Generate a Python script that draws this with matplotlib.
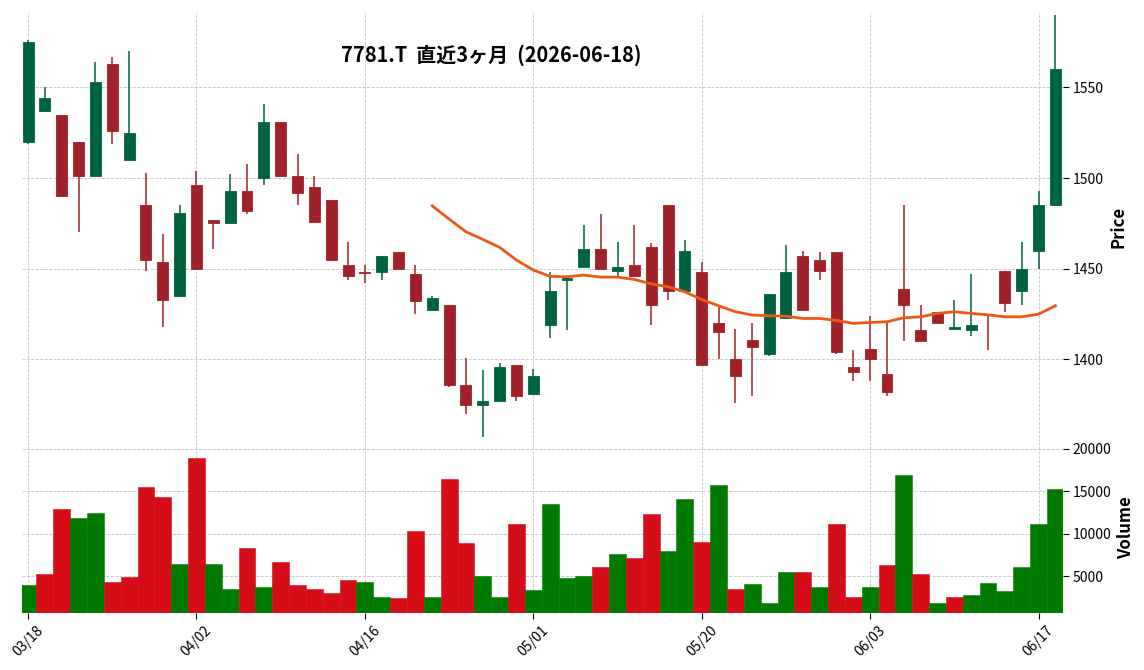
import numpy as np
import matplotlib
matplotlib.use("Agg")
import matplotlib.pyplot as plt
from matplotlib.ticker import MultipleLocator

plt.rcParams['font.family'] = ['Noto Sans CJK JP', 'DejaVu Sans']

# daily OHLCV, 2026-03-18 .. 2026-06-18 (62 sessions)
opens  = [1520, 1537, 1535, 1520, 1501, 1563, 1510, 1485, 1454, 1435,
          1496, 1477, 1475, 1493, 1500, 1531, 1501, 1495, 1488, 1452,
          1448, 1448, 1459, 1447, 1427, 1430, 1386, 1375, 1377, 1397,
          1381, 1419, 1444, 1451, 1461, 1449, 1452, 1462, 1485, 1438,
          1448, 1420, 1400, 1411, 1403, 1423, 1457, 1455, 1459, 1396,
          1406, 1392, 1439, 1416, 1426, 1417, 1416, 1425, 1449, 1438,
          1460, 1485]
highs  = [1576, 1550, 1535, 1520, 1564, 1567, 1570, 1503, 1469, 1485,
          1504, 1477, 1502, 1508, 1541, 1531, 1513, 1501, 1488, 1465,
          1452, 1457, 1459, 1452, 1435, 1430, 1401, 1394, 1398, 1397,
          1395, 1448, 1445, 1474, 1480, 1465, 1474, 1464, 1485, 1466,
          1454, 1429, 1417, 1420, 1436, 1463, 1460, 1459, 1459, 1405,
          1424, 1420, 1485, 1430, 1426, 1433, 1447, 1425, 1449, 1465,
          1493, 1590]
lows   = [1519, 1537, 1490, 1470, 1501, 1519, 1510, 1449, 1418, 1435,
          1450, 1461, 1475, 1480, 1496, 1501, 1485, 1476, 1455, 1444,
          1442, 1444, 1450, 1425, 1427, 1385, 1370, 1357, 1377, 1377,
          1381, 1412, 1416, 1451, 1450, 1446, 1446, 1419, 1433, 1438,
          1397, 1400, 1376, 1380, 1402, 1423, 1427, 1444, 1403, 1388,
          1388, 1380, 1410, 1410, 1420, 1417, 1413, 1405, 1426, 1430,
          1450, 1485]
closes = [1575, 1544, 1490, 1501, 1553, 1526, 1525, 1455, 1433, 1481,
          1450, 1475, 1493, 1482, 1531, 1501, 1492, 1476, 1455, 1446,
          1447.5, 1457, 1450, 1432, 1434, 1386, 1375, 1377, 1396, 1380,
          1391, 1438, 1445, 1461, 1450, 1451, 1446, 1430, 1438, 1460,
          1397, 1415, 1391, 1407, 1436, 1448, 1427, 1449, 1404, 1393,
          1400, 1382, 1430, 1410, 1420, 1418, 1419, 1424.5, 1431, 1450,
          1485, 1560]
volumes = [4000, 5300, 12900, 11900, 12400, 4300, 4900, 15500, 14300, 6400,
           18900, 6400, 3500, 8300, 3700, 6700, 4000, 3500, 3000, 4600,
           4300, 2600, 2500, 10300, 2600, 16400, 8900, 5000, 2600, 11100,
           3400, 13500, 4800, 5000, 6100, 7600, 7100, 12300, 8000, 14100,
           9000, 15700, 3500, 4100, 1900, 5500, 5500, 3700, 11200, 2600,
           3700, 6300, 16900, 5300, 1900, 2600, 2800, 4200, 3300, 6100,
           11100, 15200]
# 25-day moving average, starts at session 24
ma_start = 24
ma25 = [1484.7, 1477.4, 1470.4, 1466.2, 1461.8, 1454.8, 1449.3, 1445.8, 1445.6, 1446.5,
        1445.4, 1445.4, 1444.1, 1441.7, 1440.1, 1437.3, 1433.1, 1429.6, 1426.3, 1424.5,
        1424.1, 1423.9, 1422.6, 1422.6, 1421.5, 1419.9, 1420.4, 1420.8, 1423.0, 1423.5,
        1425.4, 1426.3, 1425.4, 1424.6, 1423.5, 1423.5, 1425.0, 1429.6]
tick_pos = [0, 10, 20, 30, 40, 50, 60]
tick_labels = ['03/18', '04/02', '04/16', '05/01', '05/20', '06/03', '06/17']
title = '7781.T  直近3ヶ月  (2026-06-18)'

up_c, dn_c = '#006340', '#a02128'
vup_c, vdn_c = '#007a00', '#d50d18'
grid_kw = dict(color='#c4c4c4', linestyle='--', linewidth=0.6)

o = np.array(opens, float); h = np.array(highs, float)
l = np.array(lows, float); c = np.array(closes, float)
v = np.array(volumes, float)
x = np.arange(len(o))

fig = plt.figure(figsize=(11.44, 6.70), dpi=100)
ax = fig.add_axes([0.0192, 0.340, 0.9100, 0.642])
axv = fig.add_axes([0.0192, 0.085, 0.9100, 0.255], sharex=ax)

# candles
ccol = [up_c if cc >= oo else dn_c for oo, cc in zip(o, c)]
ax.vlines(x, l, h, colors=ccol, linewidth=1.1, zorder=2)
body_lo = np.minimum(o, c)
body_h = np.abs(c - o)
ax.bar(x, body_h, bottom=body_lo, width=0.65, color=ccol, edgecolor=ccol,
       linewidth=0.6, zorder=3)
ax.plot(x[ma_start:], ma25, color='#ef5714', linewidth=2, zorder=4)

# volume coloured by close vs previous close
prev = np.concatenate([[c[0]], c[:-1]])
vcol = [vup_c if cc >= pp else vdn_c for cc, pp in zip(c, prev)]
vcol[0] = vup_c
axv.bar(x, v, width=1.0, color=vcol, edgecolor=vcol, linewidth=0.4, zorder=3)

ax.set_xlim(-0.36, 61.45)
ax.set_ylim(1354.4, 1591.5)
axv.set_ylim(700, 20740)

for a in (ax, axv):
    for s in a.spines.values():
        s.set_visible(False)
    a.yaxis.tick_right()
    a.yaxis.set_label_position('right')
    a.grid(True, **grid_kw)
    a.set_axisbelow(True)
    a.tick_params(axis='y', labelsize=10, length=4, width=0.8, pad=3)
    a.set_xticks(tick_pos)

ax.yaxis.set_major_locator(MultipleLocator(50))
axv.yaxis.set_major_locator(MultipleLocator(5000))
ax.tick_params(axis='x', bottom=False, labelbottom=False)
axv.set_xticklabels(tick_labels, rotation=45, ha='center')
axv.tick_params(axis='x', labelsize=10, length=4, width=0.8)

ax.set_ylabel('Price', fontsize=12, fontweight='bold', labelpad=4)
axv.set_ylabel('Volume', fontsize=12, fontweight='bold', labelpad=4)

fig.text(0.429, 0.917, title, ha='center', va='center', fontsize=14.4, fontweight='bold')

fig.savefig('out.png', dpi=100)
